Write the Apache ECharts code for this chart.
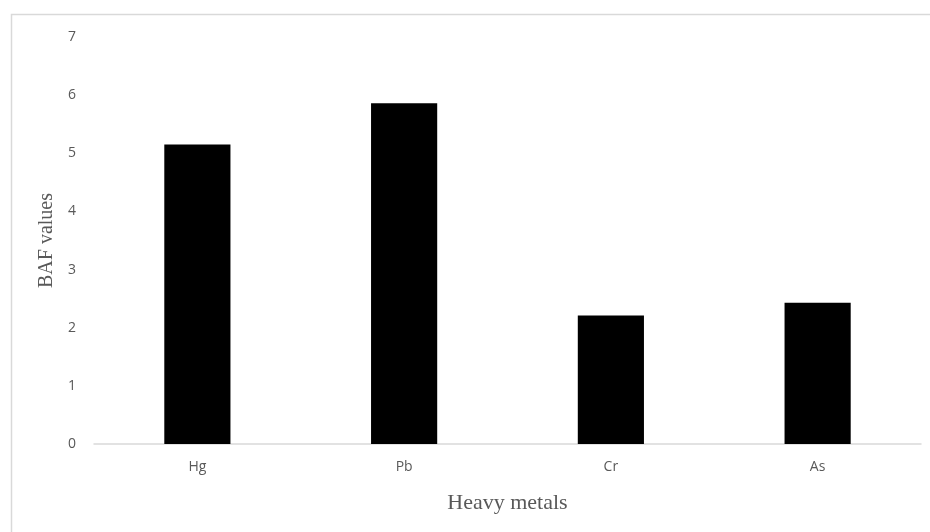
<!DOCTYPE html>
<html>
<head>
<meta charset="utf-8">
<script src="https://cdn.jsdelivr.net/npm/echarts@6/dist/echarts.min.js"></script>
<style>html,body{margin:0;padding:0;background:#fff;}#c{width:930px;height:532px;}</style>
</head>
<body>
<div id="c"></div>
<script>
const categories = ['Hg', 'Pb', 'Cr', 'As'];
const bafValues = [5.15, 5.86, 2.21, 2.43];
const yTicks = [0, 1, 2, 3, 4, 5, 6, 7];

const chart = echarts.init(document.getElementById('c'));
chart.setOption({
  animation: false,
  backgroundColor: '#fff',
  graphic: [{
    type: 'rect',
    shape: { x: 11.5, y: 14.5, width: 1000, height: 1000 },
    style: { fill: 'none', stroke: '#d9d9d9', lineWidth: 1.5 }
  }],
  grid: { left: 94, right: 9, top: 37, bottom: 88, containLabel: false },
  xAxis: {
    type: 'category',
    data: categories,
    name: 'Heavy metals',
    nameLocation: 'middle',
    nameGap: 48,
    nameTextStyle: { fontFamily: 'Liberation Serif', fontSize: 22, color: '#595959' },
    axisLine: { lineStyle: { color: '#d9d9d9', width: 1.5 } },
    axisTick: { show: false },
    axisLabel: { color: '#595959', fontFamily: 'Open Sans', fontSize: 14, margin: 16 }
  },
  yAxis: {
    type: 'value',
    min: yTicks[0],
    max: yTicks[yTicks.length - 1],
    interval: 1,
    name: 'BAF values',
    nameLocation: 'middle',
    nameGap: 31,
    nameTextStyle: { fontFamily: 'Liberation Serif', fontSize: 20, color: '#595959' },
    axisLine: { show: false },
    axisTick: { show: false },
    splitLine: { show: false },
    axisLabel: { color: '#595959', fontFamily: 'Open Sans', fontSize: 14, margin: 18 }
  },
  series: [{
    type: 'bar',
    data: bafValues,
    barWidth: '32%',
    itemStyle: { color: '#000' }
  }]
});
</script>
</body>
</html>
